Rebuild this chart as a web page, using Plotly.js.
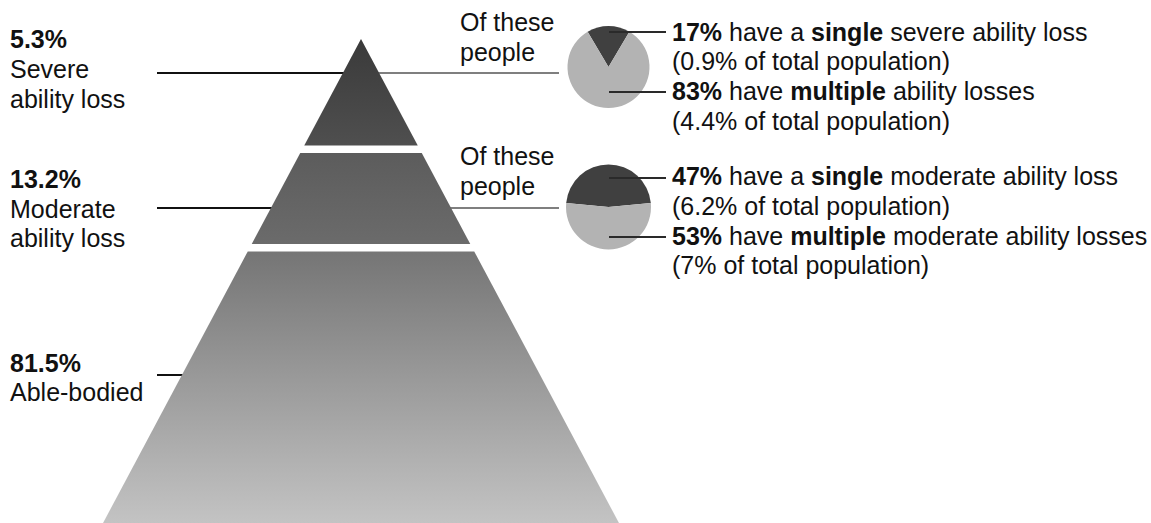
<!DOCTYPE html>
<html>
<head>
<meta charset="utf-8">
<script src="https://cdn.plot.ly/plotly-3.0.1.min.js"></script>
<style>html,body{margin:0;padding:0;background:#fff;}#chart{width:1151px;height:523px;}</style>
</head>
<body>
<div id="chart"></div>
<script>
// ---- data ----
const levelShare = [5.3, 13.2, 81.5];
const levelNameLine1 = ['Severe', 'Moderate', 'Able-bodied'];
const levelNameLine2 = ['ability loss', 'ability loss', ''];
const pieSingle = [17, 47];
const pieMultiple = [83, 53];
const popSingle = ['0.9', '6.2'];
const popMultiple = ['4.4', '7'];
const singleTail = ['severe ability loss', 'moderate ability loss'];
const multipleTail = ['ability losses', 'moderate ability losses'];

// ---- layout geometry (pixel-like axis units) ----
const W = 1151, H = 523;
const apexX = 361, apexY = 39, halfSlope = 0.533;
const bands = [[apexY, 145.5], [153, 244], [251.5, 523]];
const bandColors = [['#3a3a3a', '#4f4f4f'], ['#5c5c5c', '#6b6b6b'], ['#757575', '#c3c3c3']];
const leftX = (y) => apexX - (y - apexY) * halfSlope;
const rightX = (y) => apexX + (y - apexY) * halfSlope;
const labelLineY = [73, 208, 375];
const labelBaseY = [[48, 78, 107.5], [188, 218, 247], [372, 401]];
const pieBoxes = [[566, 651, 26, 108], [566, 651, 164, 250]];
const pieCenterX = 609;
const pieLineY = [[32, 92], [178, 237]];
const rightTextBase = [[40.5, 70, 100, 130], [185, 215, 245, 274]];
const ofTheseBase = [[31, 61], [165, 195]];
const FS = 25;
const FONT = 'Liberation Sans, Arial, Helvetica, sans-serif';
const mid = (b) => b - 0.3465 * FS;

const traces = [];
bands.forEach((b, i) => {
  const [y0, y1] = b;
  let xs, ys;
  if (i === 0) { xs = [apexX, rightX(y1), leftX(y1), apexX]; ys = [y0, y1, y1, y0]; }
  else { xs = [leftX(y0), rightX(y0), rightX(y1), leftX(y1), leftX(y0)]; ys = [y0, y0, y1, y1, y0]; }
  traces.push({
    type: 'scatter', mode: 'lines', x: xs, y: ys, fill: 'toself',
    line: {width: 0, color: 'rgba(0,0,0,0)'},
    fillcolor: bandColors[i][1],
    fillgradient: {type: 'vertical', start: y0, stop: y1, colorscale: [[0, bandColors[i][0]], [1, bandColors[i][1]]]},
    hoverinfo: 'skip', name: levelNameLine1[i] + ' ' + levelShare[i] + '%'
  });
});

pieSingle.forEach((s, i) => {
  const [x0, x1, yt, yb] = pieBoxes[i];
  traces.push({
    type: 'pie', values: [s, pieMultiple[i]], labels: ['single', 'multiple'],
    sort: false, direction: 'clockwise', rotation: -s / 100 * 180,
    marker: {colors: ['#404040', '#b3b3b3'], line: {width: 0}},
    textinfo: 'none', hoverinfo: 'skip', showlegend: false,
    domain: {x: [x0 / W, x1 / W], y: [1 - yb / H, 1 - yt / H]}
  });
});

const shapes = [];
const ann = [];
const line = (x0, y, x1, color, w, layer) => shapes.push({type: 'line', xref: 'x', yref: 'y', x0: x0, x1: x1, y0: y, y1: y, line: {color: color, width: w}, layer: layer});
labelLineY.forEach((y, i) => {
  line(157, y, leftX(y) + 2, '#111', 2, 'below');
  if (i < 2) line(rightX(y) - 2, y, 559, '#555', 1.5, 'below');
});
pieLineY.forEach((ys) => ys.forEach((y) => line(pieCenterX, y, 666, '#2a2a2a', 1.8, 'above')));

const txt = (x, base, text) => ann.push({xref: 'x', yref: 'y', x: x, y: mid(base), xanchor: 'left', yanchor: 'middle', text: text, showarrow: false, font: {family: FONT, size: FS, color: '#111'}, borderpad: 0});

levelShare.forEach((v, i) => {
  txt(9, labelBaseY[i][0], '<b>' + v + '%</b>');
  txt(9, labelBaseY[i][1], levelNameLine1[i]);
  if (levelNameLine2[i]) txt(9, labelBaseY[i][2], levelNameLine2[i]);
});
ofTheseBase.forEach((b) => { txt(459, b[0], 'Of these'); txt(459, b[1], 'people'); });
pieSingle.forEach((s, i) => {
  const b = rightTextBase[i];
  txt(671, b[0], '<b>' + s + '%</b> have a <b>single</b> ' + singleTail[i]);
  txt(671, b[1], '(' + popSingle[i] + '% of total population)');
  txt(671, b[2], '<b>' + pieMultiple[i] + '%</b> have <b>multiple</b> ' + multipleTail[i]);
  txt(671, b[3], '(' + popMultiple[i] + '% of total population)');
});

const layout = {
  width: W, height: H, margin: {l: 0, r: 0, t: 0, b: 0, pad: 0},
  paper_bgcolor: '#fff', plot_bgcolor: '#fff', showlegend: false, hovermode: false,
  xaxis: {range: [0, W], visible: false, fixedrange: true},
  yaxis: {range: [H, 0], visible: false, fixedrange: true},
  shapes: shapes, annotations: ann
};
Plotly.newPlot('chart', traces, layout, {staticPlot: true, displayModeBar: false});
</script>
</body>
</html>
